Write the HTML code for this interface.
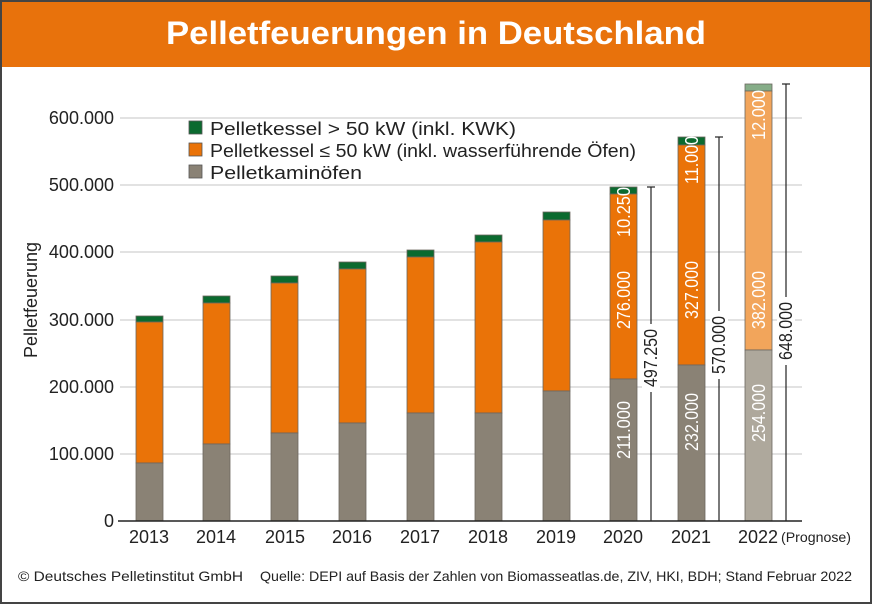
<!DOCTYPE html>
<html><head><meta charset="utf-8"><style>
body{margin:0;background:#fff}
svg{display:block;font-family:"Liberation Sans",sans-serif}
</style></head><body>
<svg width="872" height="604" viewBox="0 0 872 604" xmlns="http://www.w3.org/2000/svg">
<rect x="0" y="0" width="872" height="604" fill="#fff"/>
<rect x="0" y="0" width="872" height="67" fill="#e8720c"/>
<text x="436" y="44" text-anchor="middle" fill="#fff" font-size="32" font-weight="bold" textLength="540" lengthAdjust="spacingAndGlyphs">Pelletfeuerungen in Deutschland</text>
<rect x="1" y="1" width="870" height="602" fill="none" stroke="#444" stroke-width="2"/>
<g stroke="#d0d0d0" stroke-width="1.2">
<line x1="120" x2="802" y1="118" y2="118"/><line x1="120" x2="802" y1="185" y2="185"/>
<line x1="120" x2="802" y1="252" y2="252"/><line x1="120" x2="802" y1="320" y2="320"/>
<line x1="120" x2="802" y1="387" y2="387"/><line x1="120" x2="802" y1="454" y2="454"/>
</g>
<g font-size="18" fill="#222" text-anchor="end">
<text x="114" y="124">600.000</text><text x="114" y="191">500.000</text>
<text x="114" y="258">400.000</text><text x="114" y="326">300.000</text>
<text x="114" y="393">200.000</text><text x="114" y="460">100.000</text>
<text x="114" y="527">0</text>
</g>
<text transform="translate(37,300) rotate(-90)" text-anchor="middle" font-size="18" fill="#222">Pelletfeuerung</text>
<g stroke="#6b675f" stroke-width="0.8">
<rect x="136" y="316" width="27" height="6" fill="#0b6a2f"/><rect x="136" y="322" width="27" height="141" fill="#ea7308"/><rect x="136" y="463" width="27" height="58" fill="#8a8275"/>
<rect x="203" y="296" width="27" height="7" fill="#0b6a2f"/><rect x="203" y="303" width="27" height="141" fill="#ea7308"/><rect x="203" y="444" width="27" height="77" fill="#8a8275"/>
<rect x="271" y="276" width="27" height="7" fill="#0b6a2f"/><rect x="271" y="283" width="27" height="150" fill="#ea7308"/><rect x="271" y="433" width="27" height="88" fill="#8a8275"/>
<rect x="339" y="262" width="27" height="7" fill="#0b6a2f"/><rect x="339" y="269" width="27" height="154" fill="#ea7308"/><rect x="339" y="423" width="27" height="98" fill="#8a8275"/>
<rect x="407" y="250" width="27" height="7" fill="#0b6a2f"/><rect x="407" y="257" width="27" height="156" fill="#ea7308"/><rect x="407" y="413" width="27" height="108" fill="#8a8275"/>
<rect x="475" y="235" width="27" height="7" fill="#0b6a2f"/><rect x="475" y="242" width="27" height="171" fill="#ea7308"/><rect x="475" y="413" width="27" height="108" fill="#8a8275"/>
<rect x="543" y="212" width="27" height="8" fill="#0b6a2f"/><rect x="543" y="220" width="27" height="171" fill="#ea7308"/><rect x="543" y="391" width="27" height="130" fill="#8a8275"/>
<rect x="610" y="187" width="27" height="7" fill="#0b6a2f"/><rect x="610" y="194" width="27" height="185" fill="#ea7308"/><rect x="610" y="379" width="27" height="142" fill="#8a8275"/>
<rect x="678" y="137" width="27" height="8" fill="#0b6a2f"/><rect x="678" y="145" width="27" height="220" fill="#ea7308"/><rect x="678" y="365" width="27" height="156" fill="#8a8275"/>
<rect x="745" y="84" width="27" height="7" fill="#86ad88"/><rect x="745" y="91" width="27" height="259" fill="#f2a55b"/><rect x="745" y="350" width="27" height="171" fill="#aea89c"/>
</g>
<g stroke="#222" stroke-width="1.2">
<line x1="651" x2="651" y1="187" y2="521"/><line x1="647" x2="655" y1="187" y2="187"/>
<line x1="719" x2="719" y1="137" y2="521"/><line x1="715" x2="723" y1="137" y2="137"/>
<line x1="786" x2="786" y1="84" y2="521"/><line x1="782" x2="790" y1="84" y2="84"/>
</g>
<g font-size="18" fill="#222" text-anchor="middle">
<rect x="642" y="324" width="18" height="68" fill="#fff"/>
<text transform="translate(657,358) rotate(-90)" textLength="58" lengthAdjust="spacingAndGlyphs">497.250</text>
<rect x="710" y="311" width="18" height="68" fill="#fff"/>
<text transform="translate(725,345) rotate(-90)" textLength="58" lengthAdjust="spacingAndGlyphs">570.000</text>
<rect x="777" y="297" width="18" height="68" fill="#fff"/>
<text transform="translate(792,331) rotate(-90)" textLength="58" lengthAdjust="spacingAndGlyphs">648.000</text>
</g>
<g font-size="18" fill="#fff" text-anchor="middle">
<text transform="translate(630,430) rotate(-90)" textLength="58" lengthAdjust="spacingAndGlyphs">211.000</text>
<text transform="translate(630,300) rotate(-90)" textLength="58" lengthAdjust="spacingAndGlyphs">276.000</text>
<text transform="translate(630,212) rotate(-90)" textLength="50" lengthAdjust="spacingAndGlyphs">10.250</text>
<text transform="translate(698,422) rotate(-90)" textLength="58" lengthAdjust="spacingAndGlyphs">232.000</text>
<text transform="translate(698,290) rotate(-90)" textLength="58" lengthAdjust="spacingAndGlyphs">327.000</text>
<text transform="translate(698,160) rotate(-90)" textLength="48" lengthAdjust="spacingAndGlyphs">11.000</text>
<text transform="translate(765,413) rotate(-90)" textLength="58" lengthAdjust="spacingAndGlyphs">254.000</text>
<text transform="translate(765,300) rotate(-90)" textLength="58" lengthAdjust="spacingAndGlyphs">382.000</text>
<text transform="translate(765,115) rotate(-90)" textLength="50" lengthAdjust="spacingAndGlyphs">12.000</text>
</g>
<line x1="118" x2="802" y1="521" y2="521" stroke="#222" stroke-width="1.5"/>
<g font-size="18" fill="#222" text-anchor="middle">
<text x="149" y="543">2013</text><text x="216" y="543">2014</text><text x="285" y="543">2015</text>
<text x="352" y="543">2016</text><text x="420" y="543">2017</text><text x="488" y="543">2018</text>
<text x="556" y="543">2019</text><text x="623" y="543">2020</text><text x="691" y="543">2021</text>
<text x="758" y="543">2022</text>
</g>
<text x="781" y="542" font-size="14" fill="#222" textLength="70" lengthAdjust="spacingAndGlyphs">(Prognose)</text>
<g stroke="#555" stroke-width="0.8">
<rect x="189" y="121" width="13" height="13" fill="#0b6a2f"/>
<rect x="189" y="143" width="13" height="13" fill="#ea7308"/>
<rect x="189" y="165" width="13" height="13" fill="#8a8275"/>
</g>
<g font-size="18" fill="#222">
<text x="210" y="135" textLength="306" lengthAdjust="spacingAndGlyphs">Pelletkessel &gt; 50 kW (inkl. KWK)</text>
<text x="210" y="157" textLength="426" lengthAdjust="spacingAndGlyphs">Pelletkessel ≤ 50 kW (inkl. wasserführende Öfen)</text>
<text x="210" y="179" textLength="152" lengthAdjust="spacingAndGlyphs">Pelletkaminöfen</text>
</g>
<text x="18" y="581" font-size="14" fill="#222" textLength="225" lengthAdjust="spacingAndGlyphs">© Deutsches Pelletinstitut GmbH</text>
<text x="260" y="581" font-size="14" fill="#222" textLength="592" lengthAdjust="spacingAndGlyphs">Quelle: DEPI auf Basis der Zahlen von Biomasseatlas.de, ZIV, HKI, BDH; Stand Februar 2022</text>
</svg>
</body></html>
